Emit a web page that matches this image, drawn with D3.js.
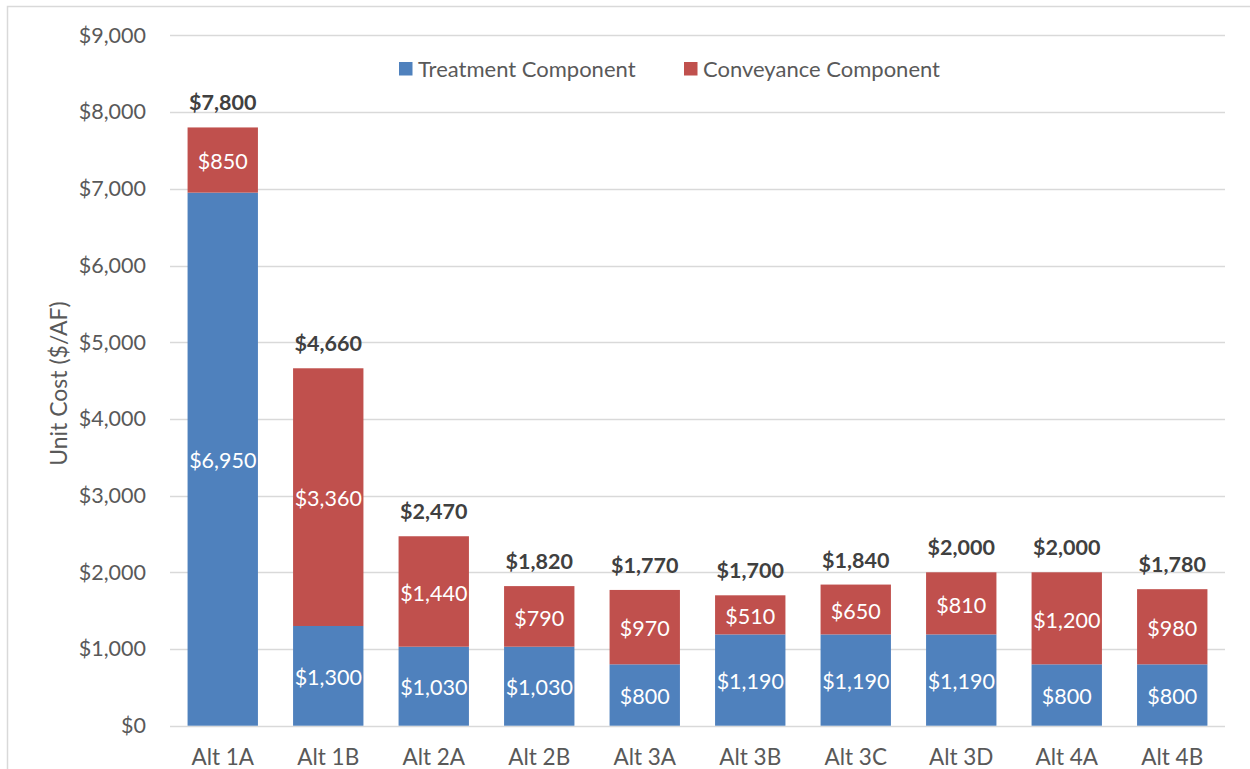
<!DOCTYPE html>
<html>
<head>
<meta charset="utf-8">
<script src="https://cdn.jsdelivr.net/npm/d3@7"></script>
<style>
  body { margin: 0; background: #fff; }
  svg text { font-family: Lato, "Open Sans", sans-serif; }
</style>
</head>
<body>
<svg width="1250" height="769"></svg>
<script>
// chart data
var categories = ["Alt 1A", "Alt 1B", "Alt 2A", "Alt 2B", "Alt 3A", "Alt 3B", "Alt 3C", "Alt 3D", "Alt 4A", "Alt 4B"];
var treatment = [6950, 1300, 1030, 1030, 800, 1190, 1190, 1190, 800, 800];
var conveyance = [850, 3360, 1440, 790, 970, 510, 650, 810, 1200, 980];
var totals = [7800, 4660, 2470, 1820, 1770, 1700, 1840, 2000, 2000, 1780];
var yTicks = [0, 1000, 2000, 3000, 4000, 5000, 6000, 7000, 8000, 9000];
var seriesNames = ["Treatment Component", "Conveyance Component"];
var seriesColors = ["#4F81BD", "#C0504D"];

var svg = d3.select("svg"),
  width = +svg.attr("width"),
  height = +svg.attr("height");

var plotLeft = 170, plotRight = 1225, plotTop = 35.4, plotBottom = 725.7;

// outer frame (only top and left edges show in the picture)
svg.append("rect")
  .attr("x", 7.5).attr("y", 6.5)
  .attr("width", width + 10).attr("height", height + 10)
  .attr("fill", "none").attr("stroke", "#D9D9D9").attr("stroke-width", 1.5);

var x = d3.scaleBand()
  .domain(categories)
  .range([plotLeft, plotRight])
  .paddingInner(0.333)
  .paddingOuter(0.1665);

var y = d3.scaleLinear()
  .domain([0, 9000])
  .range([plotBottom, plotTop]);

var fmt = function(v) { return "$" + d3.format(",")(v); };

// gridlines
svg.append("g")
  .selectAll("line")
  .data(yTicks)
  .enter()
  .append("line")
    .attr("x1", plotLeft).attr("x2", plotRight)
    .attr("y1", function(d) { return Math.round(y(d)) + 0.5; })
    .attr("y2", function(d) { return Math.round(y(d)) + 0.5; })
    .attr("stroke", "#D9D9D9")
    .attr("stroke-width", 1.3);

// y axis labels
var yAxis = svg.append("g")
  .attr("transform", "translate(" + plotLeft + ",0)")
  .call(d3.axisLeft(y).tickValues(yTicks).tickFormat(fmt).tickSize(0).tickPadding(24));
yAxis.select(".domain").remove();
yAxis.selectAll("text").attr("font-size", 21.5).attr("fill", "#595959")
  .style("font-family", "Lato, sans-serif");

// x axis labels
var xAxis = svg.append("g")
  .attr("transform", "translate(0," + plotBottom + ")")
  .call(d3.axisBottom(x).tickSize(0).tickPadding(23));
xAxis.select(".domain").remove();
xAxis.selectAll("text").attr("font-size", 22.5).attr("fill", "#595959")
  .style("font-family", "Lato, sans-serif");

// axis title
svg.append("text")
  .attr("transform", "translate(67," + ((plotTop + plotBottom) / 2 + 3) + ") rotate(-90)")
  .attr("text-anchor", "middle")
  .attr("font-size", 23)
  .attr("fill", "#595959")
  .text("Unit Cost ($/AF)");

// stacked bars
var rows = categories.map(function(c, i) {
  return { cat: c, vals: [treatment[i], conveyance[i]], total: totals[i] };
});

var bars = svg.append("g");
rows.forEach(function(r) {
  var base = 0;
  r.vals.forEach(function(v, s) {
    var y0 = y(base), y1 = y(base + v);
    bars.append("rect")
      .attr("x", x(r.cat))
      .attr("width", x.bandwidth())
      .attr("y", y1)
      .attr("height", y0 - y1)
      .attr("fill", seriesColors[s]);
    bars.append("text")
      .attr("x", x(r.cat) + x.bandwidth() / 2)
      .attr("y", (y0 + y1) / 2)
      .attr("dy", "0.43em")
      .attr("text-anchor", "middle")
      .attr("font-size", 21.5)
      .attr("fill", "#fff")
      .text(fmt(v));
    base += v;
  });
  bars.append("text")
    .attr("x", x(r.cat) + x.bandwidth() / 2)
    .attr("y", y(r.total) - 17)
    .attr("text-anchor", "middle")
    .attr("font-size", 21.5)
    .attr("font-weight", "bold")
    .attr("fill", "#404040")
    .text(fmt(r.total));
});

// legend
var legendPos = [399, 684];
var legend = svg.append("g");
seriesNames.forEach(function(n, i) {
  legend.append("rect")
    .attr("x", legendPos[i]).attr("y", 62)
    .attr("width", 13.5).attr("height", 13.5)
    .attr("fill", seriesColors[i]);
  legend.append("text")
    .attr("x", legendPos[i] + 19).attr("y", 69)
    .attr("dy", "0.36em")
    .attr("font-size", 22)
    .attr("fill", "#595959")
    .text(n);
});
</script>
</body>
</html>
